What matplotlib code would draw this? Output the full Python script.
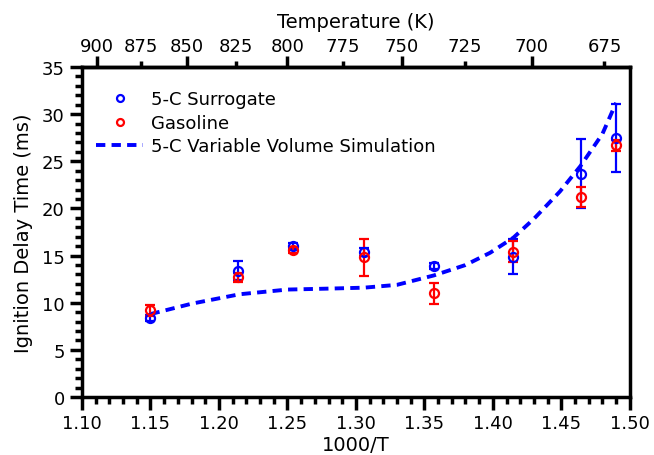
import numpy as np
import matplotlib.pyplot as plt
from matplotlib.ticker import MultipleLocator, FixedLocator, FuncFormatter
from matplotlib.lines import Line2D

# measured data (1000/T, ms)
inv_T = [1.150, 1.214, 1.254, 1.306, 1.357, 1.4146, 1.464, 1.4898]
surrogate = [8.4, 13.4, 16.0, 15.4, 13.9, 14.9, 23.7, 27.5]
surrogate_err = [0.3, 1.0, 0.3, 0.4, 0.3, 1.9, 3.7, 3.6]
gasoline = [9.2, 12.7, 15.6, 14.8, 11.0, 15.4, 21.2, 26.7]
gasoline_err = [0.6, 0.5, 0.3, 2.0, 1.1, 1.1, 1.1, 0.6]

# variable volume simulation
sim_x = [1.150, 1.180, 1.215, 1.250, 1.280, 1.306, 1.330, 1.357,
         1.380, 1.398, 1.415, 1.430, 1.449, 1.464, 1.480, 1.490]
sim_y = [8.8, 9.9, 10.9, 11.4, 11.5, 11.6, 11.9, 12.9,
         14.0, 15.3, 16.9, 18.9, 21.8, 24.5, 27.9, 31.2]

temp_major = [900, 850, 800, 750, 700]
temp_minor = [875, 825, 775, 725, 675]

plt.rcParams['font.family'] = 'DejaVu Sans'

fig = plt.figure(figsize=(6.54, 4.56), dpi=100)
ax = fig.add_axes([0.1254, 0.127, 0.8376, 0.724])

ax.errorbar(inv_T, surrogate, yerr=surrogate_err, fmt='o', mfc='none', mec='blue',
            ecolor='blue', ms=6.5, mew=1.6, elinewidth=1.6, capsize=3.5, capthick=1.6,
            zorder=3)
ax.errorbar(inv_T, gasoline, yerr=gasoline_err, fmt='o', mfc='none', mec='red',
            ecolor='red', ms=6.5, mew=1.6, elinewidth=1.6, capsize=3.5, capthick=1.6,
            zorder=3)
ax.plot(sim_x, sim_y, '--', color='blue', lw=2.8, dashes=(2.4, 1.6), zorder=2)

ax.set_xlim(1.10, 1.50)
ax.set_ylim(0, 35)
ax.xaxis.set_major_locator(MultipleLocator(0.05))
ax.xaxis.set_minor_locator(MultipleLocator(0.01))
ax.yaxis.set_major_locator(MultipleLocator(5))
ax.yaxis.set_minor_locator(MultipleLocator(1))
ax.xaxis.set_major_formatter(plt.FormatStrFormatter('%.2f'))

for s in ax.spines.values():
    s.set_linewidth(2.5)
ax.tick_params(which='major', direction='out', length=9, width=2.5, labelsize=13)
ax.tick_params(which='minor', direction='out', length=5, width=2.5)
ax.tick_params(top=False, right=False, which='both')

ax.set_xlabel('1000/T', fontsize=14, labelpad=2)
ax.set_ylabel('Ignition Delay Time (ms)', fontsize=14, labelpad=6)

# top axis in temperature
top = ax.secondary_xaxis('top', functions=(lambda x: 1000 / x, lambda t: 1000 / t))
top.xaxis.set_major_locator(FixedLocator(temp_major))
top.xaxis.set_minor_locator(FixedLocator(temp_minor))
top.xaxis.set_minor_formatter(FuncFormatter(lambda v, p: '%d' % round(v)))
top.tick_params(which='major', direction='out', length=8, width=2.5, labelsize=13, pad=0.5)
top.tick_params(which='minor', direction='out', length=4.3, width=2.5, labelsize=13, pad=4.2)
top.set_xlabel('Temperature (K)', fontsize=14, labelpad=7)
top.spines['top'].set_linewidth(2.5)

handles = [
    Line2D([], [], ls='none', marker='o', mfc='none', mec='blue', ms=5, mew=1.6),
    Line2D([], [], ls='none', marker='o', mfc='none', mec='red', ms=5, mew=1.6),
    Line2D([], [], ls='--', color='blue', lw=2.8, dashes=(2.4, 1.6)),
]
labels = ['5-C Surrogate', 'Gasoline', '5-C Variable Volume Simulation']
ax.legend(handles, labels, loc='upper left', bbox_to_anchor=(-0.018, 1.0), frameon=False,
          fontsize=13, handlelength=2.65, handletextpad=0.4, borderaxespad=0.9,
          labelspacing=0.3)

fig.savefig('out.png', dpi=100)
